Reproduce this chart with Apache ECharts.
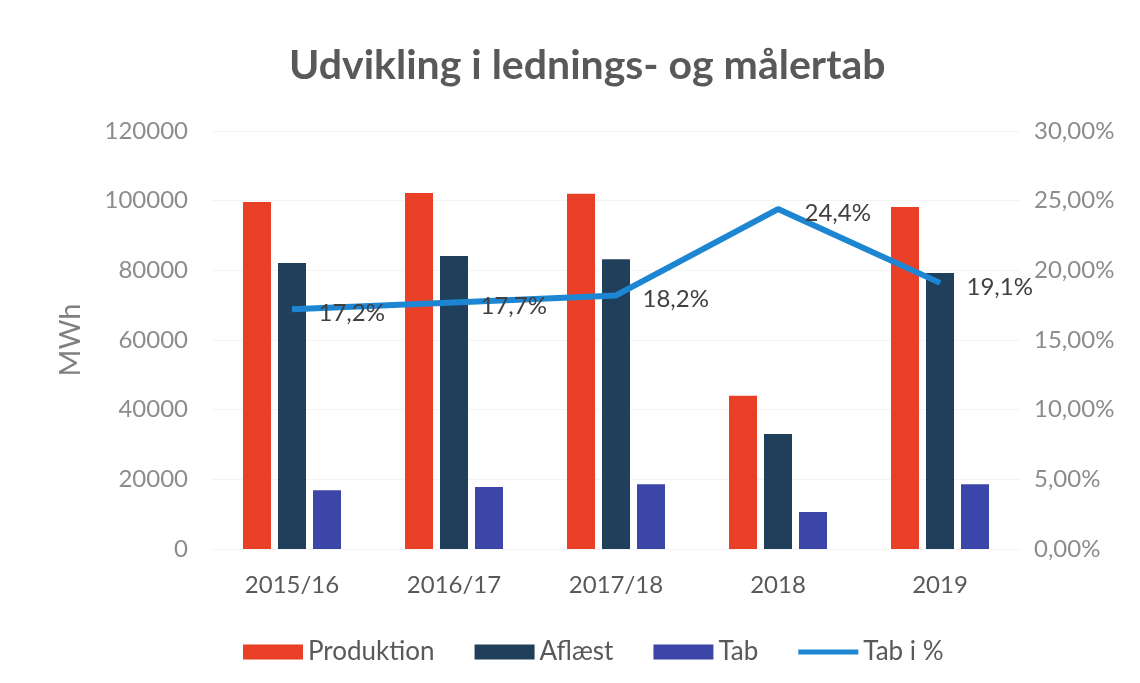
<!DOCTYPE html>
<html>
<head>
<meta charset="utf-8">
<script src="https://cdn.jsdelivr.net/npm/echarts@6/dist/echarts.min.js"></script>
<style>
html, body { margin: 0; padding: 0; background: #fff; }
#chart { width: 1140px; height: 683px; }
</style>
</head>
<body>
<div id="chart"></div>
<script>
var categories = ['2015/16', '2016/17', '2017/18', '2018', '2019'];
var produktion = [99600, 102200, 102000, 44000, 98200];
var aflaest = [82100, 84100, 83200, 33000, 79200];
var tab = [16900, 17800, 18600, 10600, 18600];
var tabPct = [17.2, 17.7, 18.2, 24.4, 19.1];

var font = 'Lato, "Open Sans", sans-serif';
// thin line icon for the legend (tiny corner dots keep the 60x15 box)
var lineIcon = 'path://M0,0h0.01v0.01h-0.01z M0,5h60v5h-60z M59.99,14.99h0.01v0.01h-0.01z';

var chart = echarts.init(document.getElementById('chart'));
var option = {
    backgroundColor: '#fff',
    textStyle: { fontFamily: font },
    title: {
        text: 'Udvikling i lednings- og målertab',
        left: 284,
        top: 40,
        textStyle: { fontSize: 41, fontWeight: 'bold', color: '#595959', fontFamily: font }
    },
    legend: {
        bottom: 13,
        left: 238,
        itemWidth: 60,
        itemHeight: 15,
        itemGap: 40,
        textStyle: { fontSize: 26, color: '#595959', fontFamily: font },
        data: [
            { name: 'Produktion', icon: 'rect' },
            { name: 'Aflæst', icon: 'rect' },
            { name: 'Tab', icon: 'rect' },
            { name: 'Tab i %', icon: lineIcon }
        ]
    },
    grid: { left: 211, right: 119, top: 131, bottom: 134 },
    xAxis: {
        type: 'category',
        data: categories,
        axisLine: { show: false },
        axisTick: { show: false },
        axisLabel: { fontSize: 24, color: '#595959', margin: 24 }
    },
    yAxis: [
        {
            type: 'value',
            min: 0,
            max: 120000,
            interval: 20000,
            name: 'MWh',
            nameLocation: 'middle',
            nameGap: 126,
            nameTextStyle: { fontSize: 29, color: '#808080' },
            axisLabel: {
                fontSize: 24, color: '#8c8c8c', margin: 23,
                formatter: function (v) { return String(v); }
            },
            splitLine: { lineStyle: { color: '#f4f4f4' } }
        },
        {
            type: 'value',
            min: 0,
            max: 30,
            interval: 5,
            axisLabel: {
                fontSize: 24, color: '#8c8c8c', margin: 13,
                formatter: function (v) { return v.toFixed(2).replace('.', ',') + '%'; }
            },
            splitLine: { show: false }
        }
    ],
    series: [
        {
            name: 'Produktion', type: 'bar', data: produktion,
            barWidth: 28, barGap: '25%',
            itemStyle: { color: '#ea3f27' }
        },
        {
            name: 'Aflæst', type: 'bar', data: aflaest,
            barWidth: 28, barGap: '25%',
            itemStyle: { color: '#203f5b' }
        },
        {
            name: 'Tab', type: 'bar', data: tab,
            barWidth: 28, barGap: '25%',
            itemStyle: { color: '#3b46a8' }
        },
        {
            name: 'Tab i %', type: 'line', yAxisIndex: 1, data: tabPct,
            symbol: 'circle',
            symbolSize: 1,
            lineStyle: { width: 6, color: '#1d86d2' },
            itemStyle: { color: '#1d86d2' },
            label: {
                show: true,
                position: 'right',
                distance: 26,
                offset: [0, 4],
                fontSize: 24,
                color: '#404040',
                formatter: function (p) { return p.value.toFixed(1).replace('.', ',') + '%'; }
            }
        }
    ]
};
chart.setOption(option);
</script>
</body>
</html>
